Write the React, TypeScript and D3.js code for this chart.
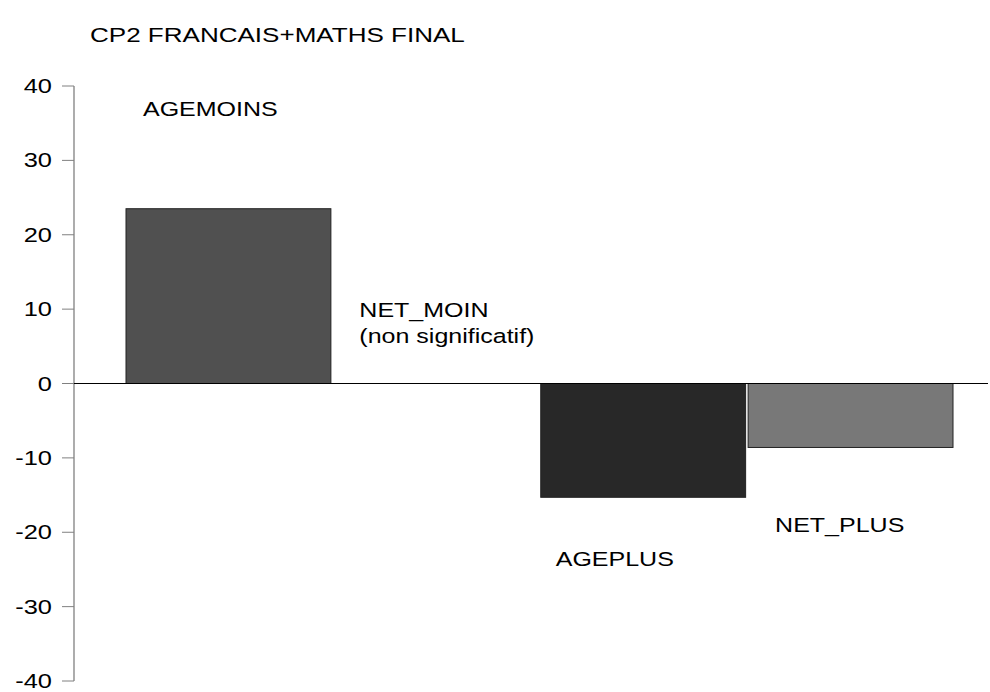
import React from "react";
import * as d3 from "d3";

const title = "CP2 FRANCAIS+MATHS FINAL";
const categories = ["AGEMOINS", "NET_MOIN", "AGEPLUS", "NET_PLUS"];
const values = [23.5, 0, -15.3, -8.6];
const fills = ["#505050", "#ffffff", "#282828", "#787878"];
const yTicks = [40, 30, 20, 10, 0, -10, -20, -30, -40];

const W = 990;
const H = 692;
const FONT = "'Liberation Sans', Arial, sans-serif";
const SX = 1.27; // labels in the source look stretched horizontally

const Label = ({ x, y, text, anchor = "start", size = 19.7 }) => (
  <text
    transform={`translate(${x},${y}) scale(${SX},1)`}
    textAnchor={anchor}
    fontSize={size}
    fontFamily={FONT}
    fill="#000"
  >
    {text}
  </text>
);

const App = () => {
  const axisX = 74;
  const y = d3.scaleLinear().domain([-40, 40]).range([681, 86]);
  const x = d3
    .scaleBand()
    .domain(categories)
    .range([126, 953])
    .paddingInner(0.012);

  const bar = (i) => {
    const v = values[i];
    const top = y(Math.max(0, v));
    const h = Math.abs(y(v) - y(0));
    return { x: x(categories[i]), y: top, w: x.bandwidth(), h };
  };

  return (
    <svg
      width={W}
      height={H}
      style={{ position: "absolute", left: 0, top: 0, background: "#fff" }}
    >
      <Label x={90} y={42} text={title} size={20.5} />

      {/* bars */}
      {values.map((v, i) => {
        if (v === 0) return null;
        const b = bar(i);
        return (
          <rect
            key={categories[i]}
            x={b.x}
            y={b.y}
            width={b.w}
            height={b.h}
            fill={fills[i]}
            stroke="#222"
            strokeWidth={1}
          />
        );
      })}

      {/* y axis */}
      <line x1={axisX} x2={axisX} y1={y(40)} y2={y(-40)} stroke="#808080" strokeWidth={1.3} />
      {yTicks.map((t) => (
        <g key={t}>
          <line x1={axisX - 12} x2={axisX} y1={y(t)} y2={y(t)} stroke="#808080" strokeWidth={1} />
          <Label x={52} y={y(t) + 7} text={String(t)} anchor="end" size={20} />
        </g>
      ))}

      {/* zero line */}
      <line x1={axisX} x2={988} y1={y(0)} y2={y(0)} stroke="#000" strokeWidth={1} />

      {/* bar labels */}
      <Label x={x("AGEMOINS") + 17} y={y(35.9)} text="AGEMOINS" />
      <Label x={x("NET_MOIN") + 26} y={y(8.9)} text="NET_MOIN" />
      <Label x={x("NET_MOIN") + 26} y={y(5.5)} text="(non significatif)" />
      <Label x={x("AGEPLUS") + 15} y={y(-24.6)} text="AGEPLUS" />
      <Label x={x("NET_PLUS") + 27} y={y(-20)} text="NET_PLUS" />
    </svg>
  );
};

export default App;
